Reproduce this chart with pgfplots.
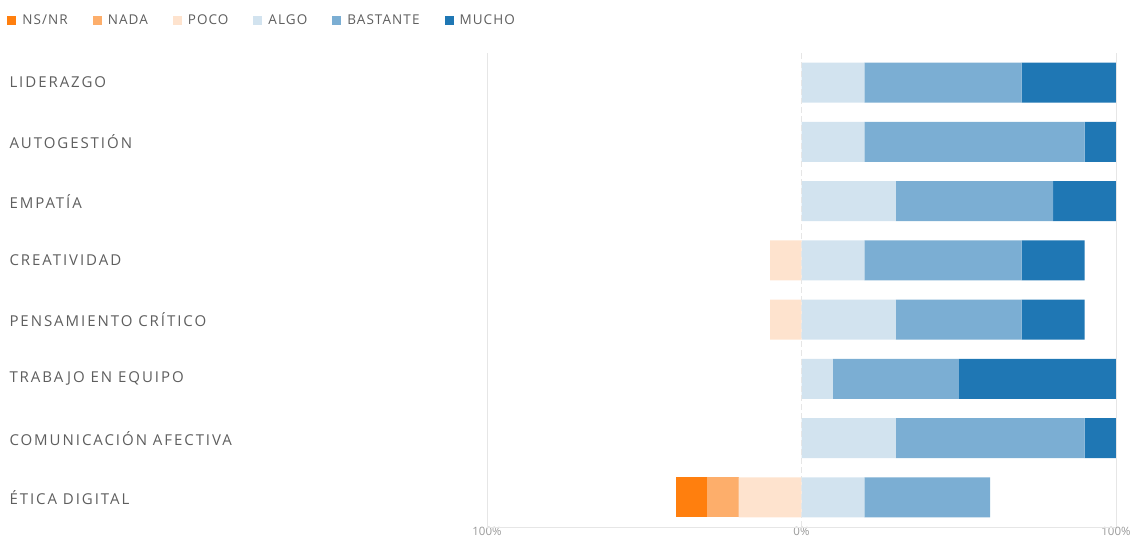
\documentclass[border=0pt]{standalone}
\usepackage{pgfplots}
\usepackage{pgfplotstable}
\pgfplotsset{compat=1.18}
\usepackage{fontspec}
\setmainfont{Open Sans}[LetterSpace=13]
\definecolor{cNS}{HTML}{FF7F0E}
\definecolor{cNADA}{HTML}{FDAE6B}
\definecolor{cPOCO}{HTML}{FEE3CE}
\definecolor{cALGO}{HTML}{D2E3EF}
\definecolor{cBAST}{HTML}{7BAED3}
\definecolor{cMUCHO}{HTML}{1F77B4}
\definecolor{gridc}{HTML}{E6E6E6}
\definecolor{txt}{HTML}{5E5E5E}
\definecolor{ticktxt}{HTML}{9A9A9A}
\pgfplotstableread{
y nsnr nada poco algo bast mucho
8 0 0 0 20 50 30
7 0 0 0 20 70 10
6 0 0 0 30 50 20
5 0 0 10 20 50 20
4 0 0 10 30 40 20
3 0 0 0 10 40 50
2 0 0 0 30 60 10
1 10 10 20 20 40 0
}\data
\begin{document}
\begin{tikzpicture}
\useasboundingbox (0,0) rectangle (1138bp,540bp);
\begin{axis}[
  at={(487bp,13bp)}, anchor=south west,
  width=629bp, height=474bp, scale only axis,
  xbar stacked, bar width=40bp, bar shift=0pt,
  xmin=-100, xmax=100, ymin=0.5, ymax=8.5,
  axis line style={draw=none},
  xtick={-100,0,100}, xticklabels={100\%,0\%,100\%},
  major tick length=0pt,
  xticklabel style={font=\fontsize{11.5bp}{13bp}\selectfont\addfontfeature{LetterSpace=0}, text=ticktxt, inner sep=1bp, yshift=1.5bp},
  ytick={1,...,8},
  yticklabels={ÉTICA DIGITAL, COMUNICACIÓN AFECTIVA, TRABAJO EN EQUIPO, PENSAMIENTO CRÍTICO, CREATIVIDAD, EMPATÍA, AUTOGESTIÓN, LIDERAZGO},
  yticklabel style={anchor=west, xshift=-481bp, font=\fontsize{15bp}{17bp}\selectfont, text=txt},
  legend style={at={(axis description cs:-0.7675,1.0696)}, anchor=west, draw=none, fill=none,
    legend columns=6, font=\fontsize{13.5bp}{16bp}\selectfont\addfontfeature{LetterSpace=8}, text=txt,
    /tikz/every even column/.append style={column sep=23bp}},
  legend image code/.code={\fill[#1] (0bp,-4.5bp) rectangle (9bp,4.5bp);},
  legend cell align=left,
  clip=false,
]
\draw[gridc, line width=0.8bp] (axis cs:-100,0.5) -- (axis cs:100,0.5);
\draw[gridc, line width=0.8bp] (axis cs:-100,0.5) -- (axis cs:-100,8.5);
\draw[gridc, line width=0.8bp] (axis cs:100,0.5) -- (axis cs:100,8.5);
\draw[gridc, line width=0.8bp, dash pattern=on 6bp off 3bp] (axis cs:0,0.5) -- (axis cs:0,8.5);
\addlegendimage{fill=cNS, draw=none}
\addlegendimage{fill=cNADA, draw=none}
\addlegendimage{fill=cPOCO, draw=none}
\addlegendimage{fill=cALGO, draw=none}
\addlegendimage{fill=cBAST, draw=none}
\addlegendimage{fill=cMUCHO, draw=none}
\legend{\hspace{4bp}NS/NR, \hspace{4bp}NADA, \hspace{4bp}POCO, \hspace{4bp}ALGO, \hspace{4bp}BASTANTE, \hspace{4bp}MUCHO}
\addplot[fill=cPOCO, draw=none] table[y=y, x expr={-\thisrow{poco}}] {\data};
\addplot[fill=cNADA, draw=none] table[y=y, x expr={-\thisrow{nada}}] {\data};
\addplot[fill=cNS, draw=none] table[y=y, x expr={-\thisrow{nsnr}}] {\data};
\addplot[fill=cALGO, draw=none] table[y=y, x=algo] {\data};
\addplot[fill=cBAST, draw=none] table[y=y, x=bast] {\data};
\addplot[fill=cMUCHO, draw=none] table[y=y, x=mucho] {\data};
\end{axis}
\end{tikzpicture}
\end{document}
